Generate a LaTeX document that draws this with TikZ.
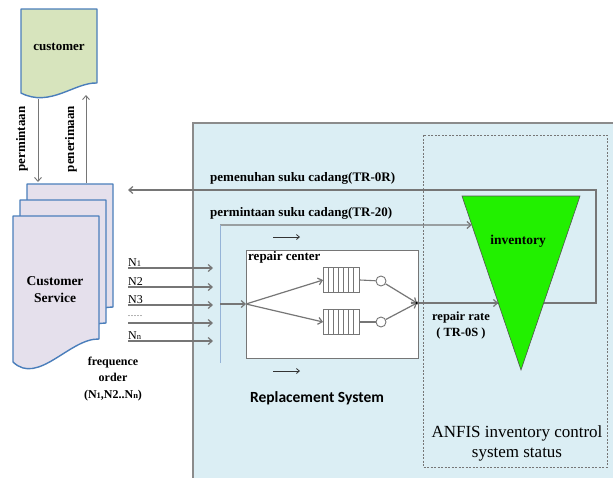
\documentclass[tikz,border=0pt]{standalone}
\usepackage{fontspec}
\setmainfont{Liberation Serif}
\newfontfamily\calfont{Carlito}
\usetikzlibrary{arrows.meta,calc}
\definecolor{docblue}{HTML}{4A7EBB}
\definecolor{custgreen}{HTML}{D7E4BD}
\definecolor{cslilac}{HTML}{E5E0EC}
\definecolor{skyback}{HTML}{DBEEF4}
\definecolor{linegray}{HTML}{767676}
\definecolor{paleblue}{HTML}{95B3D7}
\definecolor{invgreen}{HTML}{22F000}
\tikzset{
  docpage/.style={draw=docblue, line width=1.4pt, line join=round},
  flow/.style={draw=linegray, line width=1.2pt, -{Straight Barb[length=4pt,width=7pt]}},
  plainline/.style={draw=linegray, line width=1.1pt},
  hint/.style={draw=black!80, line width=0.8pt, -{Straight Barb[length=3pt,width=5pt]}},
  lbl/.style={font=\bfseries\fontsize{13}{16}\selectfont, inner sep=0pt},
  nlbl/.style={font=\fontsize{12}{12}\selectfont, inner sep=0pt, anchor=base west},
  queue/.style={draw=linegray, line width=0.9pt, minimum width=36pt, minimum height=25pt, inner sep=0pt},
  server/.style={draw=linegray, fill=white, circle, minimum size=10pt, inner sep=0pt, line width=0.9pt}
}
\newcommand{\smalldig}[1]{{\fontsize{8.5}{8.5}\selectfont #1}}
\begin{document}
\begin{tikzpicture}[x=1pt,y=-1pt]
\useasboundingbox (0,0) rectangle (613,477);
\fill[white] (0,0) rectangle (613,477);

% replacement system panel and status box
\draw[fill=skyback, draw=linegray!85, line width=1.5pt] (193,123) rectangle (617,481);
\draw[linegray, line width=0.8pt, dash pattern=on 2pt off 1.5pt] (423,135) rectangle (607,467);

% customer document
\draw[docpage, fill=custgreen] (21,9) -- (97,9) -- (97,83) .. controls (75,82) and (50,108) .. (21,93) -- cycle;
\node[lbl] (cust) at (59,47) {customer};

% stacked customer service documents
\draw[docpage, fill=cslilac] (27,184) -- (113,184) -- (113,307) .. controls (84,306) and (52,354) .. (27,330) -- cycle;
\draw[docpage, fill=cslilac] (20,200) -- (106,200) -- (106,323) .. controls (77,322) and (45,370) .. (20,346) -- cycle;
\draw[docpage, fill=cslilac] (13,216) -- (99,216) -- (99,339) .. controls (70,338) and (38,386) .. (13,362) -- cycle;
\node[lbl, align=center, font=\bfseries\fontsize{13.5}{17}\selectfont] (cs) at (55,290) {Customer\\Service};

% demand / receipt between customer and customer service
\coordinate (dnTop) at (38,99);
\coordinate (dnBot) at (38,182);
\coordinate (upBot) at (86,183);
\coordinate (upTop) at (86,95);
\draw[flow, line width=0.9pt] (dnTop) -- (dnBot);
\draw[flow, line width=0.9pt] (upBot) -- (upTop);
\node[lbl, rotate=90] (dnLbl) at (22,139) {permintaan};
\node[lbl, rotate=90] (upLbl) at (71,139) {penerimaan};

% order streams N1..Nn
\foreach \i/\y in {1/268,2/287,3/305,4/323,5/341} {
  \coordinate (nL\i) at (128,\y);
  \coordinate (nR\i) at (213,\y);
  \draw[flow] (nL\i) -- (nR\i);
}
\node[nlbl] (n1) at (128,266) {N\smalldig{1}};
\node[nlbl] (n2) at (128,285) {N2};
\node[nlbl] (n3) at (128,303) {N3};
\node[nlbl] (n4) at (128,316) {\fontsize{8}{8}\selectfont .\kern1pt.\kern1pt.\kern1pt.\kern1pt.};
\node[nlbl] (n5) at (128,339) {N\smalldig{n}};
\node[lbl, align=center, font=\bfseries\fontsize{12}{16.5}\selectfont] (freq) at (113,379) {frequence\\order\\(N\smalldig{1},N2..N\smalldig{n})};

% spare part fulfilment loop
\coordinate (merge) at (417,303);
\coordinate (loopBR) at (596,303);
\coordinate (loopTR) at (596,190);
\coordinate (csIn) at (128,190);
\draw[flow] (merge) -- (loopBR) -- (loopTR) -- (csIn);

% inventory
\coordinate (ta) at (462,196);
\coordinate (tb) at (580,196);
\coordinate (tc) at (521,370);
\draw[fill=invgreen, draw=linegray!70!black, line width=0.6pt] (ta) -- (tb) -- (tc) -- cycle;
\node[lbl, font=\bfseries\fontsize{13.5}{16}\selectfont] (inv) at (518,241) {inventory};

% spare part request
\coordinate (reqStart) at (220,225);
\coordinate (reqEnd) at (220,363);
\draw[flow] (reqStart) -- ($(ta)!0.1667!(tc)$);
\draw[paleblue, line width=1pt] (reqStart) -- (reqEnd);

\node[lbl, anchor=west] (fulfil) at (210,178) {pemenuhan suku cadang(TR-0R)};
\node[lbl, anchor=west] (request) at (210,213) {permintaan suku cadang(TR-20)};

% repair center
\node[draw=linegray, fill=white, line width=1.2pt, minimum width=172pt, minimum height=108pt, inner sep=0pt, anchor=north west] (rc) at (246,250) {};
\node[lbl, anchor=north west] (rcLbl) at (248,251) {repair center};
\node[queue] (q1) at (341.5,280) {};
\node[queue] (q2) at (341.5,322) {};
\foreach \q in {q1,q2} {
  \foreach \k in {1,...,6} {
    \draw[linegray, line width=0.8pt] ($(\q.north west)+(\k*5.14,0)$) -- ($(\q.south west)+(\k*5.14,0)$);
  }
}
\node[server] (s1) at (381,281) {};
\node[server] (s2) at (381,322) {};
\coordinate (tap) at (220,304);
\coordinate (fork) at (246,304);
\draw[flow] (tap) -- (fork);
\draw[flow] (fork) -- (q1.west);
\draw[flow] (fork) -- (q2.west);
\draw[plainline] (q1.east) -- (s1);
\draw[plainline] (q2.east) -- (s2);
\draw[flow] (s1) -- (merge);
\draw[flow] (s2) -- (merge);
\fill (merge) circle (1.6pt);

% repair rate into inventory
\draw[flow] (merge) -- ($(ta)!0.615!(tc)$);
\node[lbl, align=center, font=\bfseries\fontsize{12.5}{16}\selectfont] (rate) at (461,325) {repair rate\\( TR-0S )};

% direction hints
\coordinate (h1a) at (273,237);
\coordinate (h1b) at (300,237);
\coordinate (h2a) at (273,371);
\coordinate (h2b) at (300,371);
\draw[hint] (h1a) -- (h1b);
\draw[hint] (h2a) -- (h2b);

\node[font=\calfont\bfseries\fontsize{15.5}{18}\selectfont, inner sep=0pt] (repl) at (317,398) {Replacement System};
\node[align=center, font=\fontsize{17}{20}\selectfont, inner sep=0pt] (anfis) at (517,443) {ANFIS inventory control\\system status};
\end{tikzpicture}
\end{document}
